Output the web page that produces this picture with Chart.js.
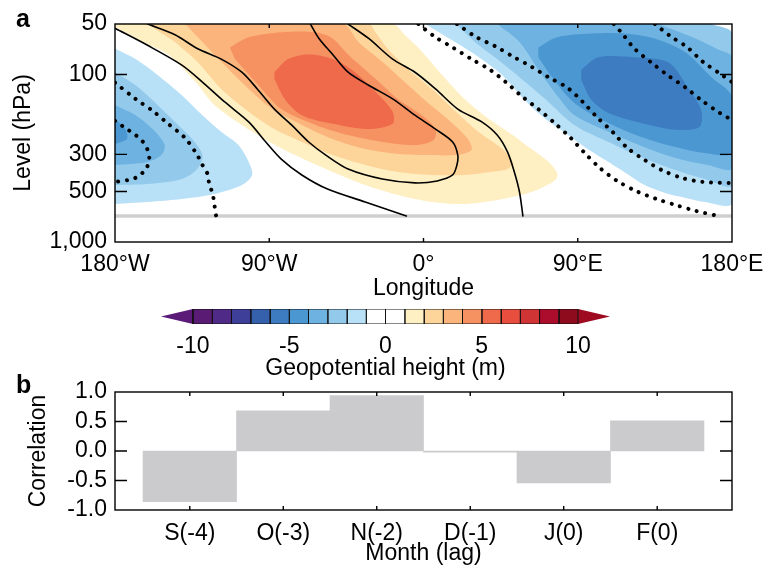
<!DOCTYPE html>
<html lang="en">
<head>
    <meta charset="UTF-8">
    <title>Geopotential height regression and lag correlation</title>
    <script src="https://cdn.jsdelivr.net/npm/chart.js@4"></script>
    <style>
        body { margin: 0; background: #fff; }
        #wrap { position: relative; width: 765px; height: 574px; }
        canvas { position: absolute; left: 0; }
    </style>
</head>
<body>
<div id="wrap">
    <canvas id="panelA" width="765" height="305" style="top:0"></canvas>
    <canvas id="colorBar" width="765" height="90" style="top:295px"></canvas>
    <canvas id="panelB" width="765" height="209" style="top:365px"></canvas>
</div>
<script>
// ---- panel a: axes ----
const lonTicks = [-180, -90, 0, 90, 180];
const lonLabels = ['180°W', '90°W', '0°', '90°E', '180°E'];
const levTicks = [50, 100, 300, 500, 1000];
const levLabels = ['50', '100', '300', '500', '1,000'];
const refLevel = 700;

// filled contour bands, [longitude, level hPa]
const pos1 = [[-180,50],[-18,50],[-11,58],[-1,73],[11,101],[24,140],[38,184],[52,230],[63,279],[73,333],[78,387],[77,426],[63,503],[43,561],[24,593],[5,577],[-15,524],[-34,457],[-53,382],[-75,303],[-92,245],[-106,200],[-122,152],[-133,111],[-149,76],[-164,64],[-180,52]];
const pos2 = [[-161,50],[-32,50],[-28,56],[-21,70],[-9,93],[5,122],[19,167],[32,220],[46,279],[52,333],[49,367],[39,382],[24,398],[5,398],[-15,382],[-34,347],[-53,303],[-71,253],[-87,212],[-102,167],[-118,122],[-132,84],[-145,64]];
const pos3 = [[-139,50],[-47,50],[-38,64],[-24,84],[-11,111],[2,146],[16,192],[26,243],[28,282],[19,303],[5,303],[-15,298],[-34,279],[-53,243],[-71,200],[-88,161],[-102,122],[-118,84],[-129,64]];
const pos4 = [[-113,69],[-102,60],[-83,56],[-63,56],[-53,61],[-44,76],[-28,106],[-15,140],[-1,175],[7,212],[6,246],[-5,264],[-24,253],[-44,230],[-63,200],[-83,161],[-98,111],[-110,81]];
const pos5 = [[-87,97],[-79,81],[-67,76],[-53,81],[-40,97],[-26,133],[-18,167],[-18,197],[-32,212],[-53,197],[-71,175],[-81,140],[-87,106]];

const negW1 = [[-180,70],[-168,81],[-155,101],[-141,133],[-129,175],[-118,220],[-108,264],[-102,333],[-100,398],[-106,457],[-122,517],[-141,554],[-161,577],[-180,593]];
const negW2 = [[-180,97],[-168,116],[-157,146],[-145,192],[-135,243],[-129,303],[-132,367],[-141,421],[-161,451],[-180,457]];
const negW3 = [[-180,152],[-168,175],[-158,212],[-151,264],[-153,303],[-161,333],[-180,347]];
const negW4 = [[-180,184],[-174,212],[-173,243],[-180,260]];

const negE1 = [[1,50],[15,61],[30,76],[46,101],[59,142],[71,184],[83,224],[94,271],[106,324],[118,387],[129,457],[141,510],[153,546],[164,577],[180,585],[180,64],[161,50]];
const negE2 = [[19,50],[30,64],[43,81],[57,106],[71,140],[88,200],[108,253],[127,311],[147,372],[166,426],[180,457],[180,57],[168,50]];
const negE3 = [[43,50],[56,64],[68,97],[80,142],[88,175],[108,220],[127,267],[147,315],[166,347],[180,362],[180,79],[172,71],[157,60],[137,50]];
const negE4 = [[67,69],[78,60],[98,57],[118,57],[137,62],[153,74],[168,104],[180,136],[180,294],[164,294],[147,271],[127,236],[108,195],[88,148],[75,104],[67,79]];
const negE5 = [[92,94],[102,79],[123,79],[143,85],[154,119],[162,163],[161,206],[147,214],[127,195],[108,170],[98,142],[92,108]];

// contour lines (solid positive, dotted negative)
const solidA = [[-180,53],[-161,67],[-141,88],[-129,111],[-116,146],[-102,192],[-92,253],[-83,320],[-71,398],[-56,483],[-34,577],[-10,700]];
const solidB = [[-161,50],[-145,58],[-132,70],[-118,81],[-106,97],[-97,122],[-87,161],[-77,200],[-67,253],[-57,303],[-44,367],[-24,421],[-5,444],[8,432],[17,398],[19.5,347],[20,303],[17,253],[7,212],[-5,175],[-18,140],[-32,116],[-44,97],[-53,76],[-61,61],[-66,50]];
const solidC = [[-44,50],[-32,61],[-18,81],[-5,97],[7,122],[20,161],[34,192],[43,230],[49,290],[53,382],[56,503],[58,700]];
const dotW1 = [[-180,112],[-168,140],[-158,165],[-149,197],[-139,240],[-132,303],[-129,347],[-126,393],[-125,451],[-123,517],[-122,601],[-121,700]];
const dotW2 = [[-180,189],[-173,212],[-168,230],[-164,250],[-161,282],[-160,324],[-162,367],[-167,409],[-172,426],[-180,438]];
const dotE1 = [[-3,50],[7,60],[17,69],[28,81],[39,94],[48,111],[57,134],[67,161],[77,197],[86,240],[94,294],[103,362],[113,432],[124,496],[136,554],[147,601],[159,653],[171,695]];
const dotE2 = [[19.5,50],[31,60],[42,68],[52,78],[63,90],[73,104],[84,120],[93,146],[101,179],[111,224],[119,275],[129,324],[139,372],[151,415],[163,438],[180,445]];
const dotE3 = [[111,50],[116,57],[123,70],[133,85],[143,102],[153,120],[162,142],[173,170],[180,187]];
const dotE4 = [[135,50],[144,59],[154,69],[163,84],[173,99],[180,111]];

// ---- colour bar ----
const cbLevels = [-10,-9,-8,-7,-6,-5,-4,-3,-2,-1,0,1,2,3,4,5,6,7,8,9,10];
const cbTicks = [-10, -5, 0, 5, 10];
const cbColors = ['#5a1b74','#4f2a86','#3d3f98','#3561ac','#3d7cc0','#4b97d1','#6db2e1','#93caec','#b8e0f6','#ffffff',
                  '#ffffff','#fef0c3','#fdd59b','#fbb57c','#f69261','#ef6a4b','#e84e3e','#d03434','#ad0d2d','#8e0b1e'];
const cbEnds = ['#5b1a78', '#9e0b20'];

// ---- panel b ----
const months = ['S(-4)', 'O(-3)', 'N(-2)', 'D(-1)', 'J(0)', 'F(0)'];
const corr = [-0.86, 0.68, 0.94, -0.02, -0.54, 0.51];
const corrTicks = [-1, -0.5, 0, 0.5, 1];

Chart.defaults.font.family = '"Liberation Sans", Arial, Helvetica, sans-serif';
Chart.defaults.font.size = 23;
Chart.defaults.color = '#000';
Chart.defaults.animation = false;
Chart.defaults.events = [];
Chart.defaults.plugins.legend.display = false;
Chart.defaults.plugins.tooltip.enabled = false;

const pts = arr => arr.map(([x, y]) => ({ x, y }));
const posColor = k => cbColors[10 + k];
const negColor = k => cbColors[9 - k];

function band(arr, color, order) {
    return { data: pts(arr), showLine: true, fill: 'shape', backgroundColor: color,
             borderWidth: 0, pointRadius: 0, tension: 0.3, order: order };
}

function contour(arr, dotted) {
    return { data: pts(arr), showLine: true, fill: false, borderColor: '#000', pointRadius: 0, tension: 0.3,
             borderWidth: dotted ? 4 : 1.6, borderDash: dotted ? [0.01, 8.7] : [],
             borderCapStyle: 'round', order: 1 };
}

// box round the plot, inward tick marks and the panel letter
function frame(xLen, yLen, letter, lx, ly) {
    return {
        id: 'frame' + letter,
        afterDraw(chart) {
            const { ctx, chartArea: a, scales } = chart;
            ctx.save();
            ctx.strokeStyle = '#000';
            ctx.lineWidth = 1.4;
            ctx.beginPath();
            scales.x.ticks.forEach(t => {
                const px = scales.x.getPixelForValue(t.value);
                if (px - a.left < 2 || a.right - px < 2) return;
                ctx.moveTo(px, a.bottom); ctx.lineTo(px, a.bottom - xLen);
                ctx.moveTo(px, a.top); ctx.lineTo(px, a.top + xLen);
            });
            scales.y.ticks.forEach(t => {
                const py = scales.y.getPixelForValue(t.value);
                if (py - a.top < 2 || a.bottom - py < 2) return;
                ctx.moveTo(a.left, py); ctx.lineTo(a.left + yLen, py);
                ctx.moveTo(a.right, py); ctx.lineTo(a.right - yLen, py);
            });
            ctx.stroke();
            ctx.strokeRect(a.left, a.top, a.width, a.height);
            ctx.fillStyle = '#000';
            ctx.font = 'bold 25px "Liberation Sans", Arial, sans-serif';
            ctx.textBaseline = 'alphabetic';
            ctx.fillText(letter, lx, ly);
            ctx.restore();
        }
    };
}

const noGrid = { display: false, drawTicks: false };

// panel a
const datasetsA = [
    contour(solidA, false), contour(solidB, false), contour(solidC, false),
    contour(dotW1, true), contour(dotW2, true),
    contour(dotE1, true), contour(dotE2, true), contour(dotE3, true), contour(dotE4, true),
    { data: pts([[lonTicks[0], refLevel], [lonTicks[4], refLevel]]), showLine: true, borderColor: '#cfcfcf',
      borderWidth: 3.5, pointRadius: 0, order: 2 },
    band(pos5, posColor(5), 26), band(pos4, posColor(4), 27), band(pos3, posColor(3), 28),
    band(pos2, posColor(2), 29), band(pos1, posColor(1), 30),
    band(negW4, negColor(4), 27), band(negW3, negColor(3), 28), band(negW2, negColor(2), 29), band(negW1, negColor(1), 30),
    band(negE5, negColor(5), 26), band(negE4, negColor(4), 27), band(negE3, negColor(3), 28),
    band(negE2, negColor(2), 29), band(negE1, negColor(1), 30)
];

new Chart(document.getElementById('panelA'), {
    type: 'scatter',
    data: { datasets: datasetsA },
    options: {
        responsive: false,
        devicePixelRatio: 1,
        layout: { padding: { top: 24, right: 33, left: 0, bottom: 0 } },
        scales: {
            x: {
                type: 'linear', min: -180, max: 180,
                grid: noGrid, border: { display: false },
                afterBuildTicks: s => { s.ticks = lonTicks.map(v => ({ value: v })); },
                afterFit: s => { s.height = 63; s.paddingLeft = 0; s.paddingRight = 0; },
                ticks: { padding: 9, maxRotation: 0, autoSkip: false, callback: (v, i) => lonLabels[i] },
                title: { display: true, text: 'Longitude', padding: { top: 0, bottom: 3 } }
            },
            y: {
                type: 'logarithmic', min: 50, max: 1000, reverse: true,
                grid: noGrid, border: { display: false },
                afterBuildTicks: s => { s.ticks = levTicks.map(v => ({ value: v })); },
                afterFit: s => { s.width = 115; },
                ticks: { padding: 8, autoSkip: false, callback: (v, i) => levLabels[i] },
                title: { display: true, text: 'Level (hPa)', padding: { top: 10, bottom: 0 } }
            }
        }
    },
    plugins: [frame(4, 12, 'a', 16, 27)]
});

// colour bar
const cbExt = 1.66;
const cbLo = cbLevels[0], cbHi = cbLevels[cbLevels.length - 1];
const cbDatasets = cbColors.map((c, i) => ({
    data: pts([[cbLevels[i], 0], [cbLevels[i + 1], 0], [cbLevels[i + 1], 1], [cbLevels[i], 1], [cbLevels[i], 0]]),
    showLine: true, fill: 'shape', backgroundColor: c, borderColor: '#111', borderWidth: 1, pointRadius: 0
}));
cbDatasets.push(
    { data: pts([[cbLo, 0], [cbLo - cbExt, 0.5], [cbLo, 1]]), showLine: true, fill: 'shape',
      backgroundColor: cbEnds[0], borderWidth: 0, pointRadius: 0 },
    { data: pts([[cbHi, 0], [cbHi + cbExt, 0.5], [cbHi, 1]]), showLine: true, fill: 'shape',
      backgroundColor: cbEnds[1], borderWidth: 0, pointRadius: 0 }
);

new Chart(document.getElementById('colorBar'), {
    type: 'scatter',
    data: { datasets: cbDatasets },
    options: {
        responsive: false,
        devicePixelRatio: 1,
        layout: { padding: { top: 14, left: 161, right: 155, bottom: 0 } },
        scales: {
            x: {
                type: 'linear', min: cbLo - cbExt, max: cbHi + cbExt,
                grid: noGrid, border: { display: false },
                afterBuildTicks: s => { s.ticks = cbTicks.map(v => ({ value: v })); },
                afterFit: s => { s.height = 61; },
                ticks: { padding: 9, maxRotation: 0, autoSkip: false, callback: v => String(v) },
                title: { display: true, text: 'Geopotential height (m)', padding: { top: 0, bottom: 2.5 } }
            },
            y: { display: false, min: 0, max: 1 }
        }
    }
});

// panel b
new Chart(document.getElementById('panelB'), {
    type: 'bar',
    data: {
        datasets: [{
            data: months.map((m, i) => ({ x: i + 1, y: corr[i] })),
            backgroundColor: '#cbcbcd', borderWidth: 0,
            barPercentage: 1, categoryPercentage: 1
        }]
    },
    options: {
        responsive: false,
        devicePixelRatio: 1,
        layout: { padding: { top: 27, right: 33, left: 0, bottom: 0 } },
        scales: {
            x: {
                type: 'linear', min: 0.2, max: 6.8, offset: false,
                grid: noGrid, border: { display: false },
                afterBuildTicks: s => { s.ticks = months.map((m, i) => ({ value: i + 1 })); },
                afterFit: s => { s.height = 64; s.paddingLeft = 0; s.paddingRight = 0; },
                ticks: { padding: 10, maxRotation: 0, autoSkip: false, callback: (v, i) => months[i] },
                title: { display: true, text: 'Month (lag)', padding: { top: 0, bottom: 7 } }
            },
            y: {
                min: -1, max: 1,
                grid: noGrid, border: { display: false },
                afterBuildTicks: s => { s.ticks = corrTicks.map(v => ({ value: v })); },
                afterFit: s => { s.width = 115; },
                ticks: { padding: 8, autoSkip: false, callback: v => v.toFixed(1) },
                title: { display: true, text: 'Correlation', padding: { top: 25, bottom: 0 } }
            }
        }
    },
    plugins: [frame(4, 12, 'b', 16, 28)]
});
</script>
</body>
</html>
